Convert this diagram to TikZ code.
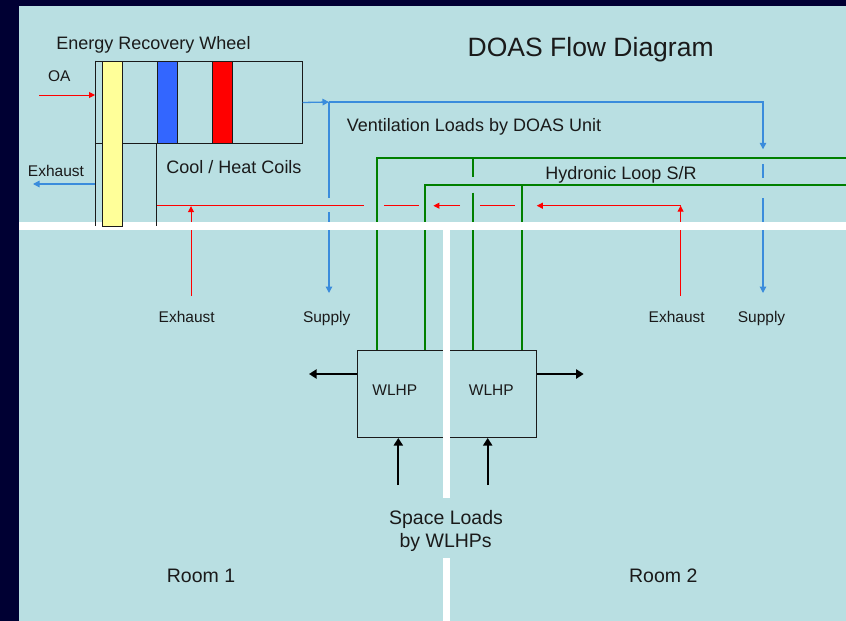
\documentclass[tikz,border=0pt]{standalone}
\usepackage{fontspec}
\setmainfont{Liberation Sans}
\usetikzlibrary{arrows.meta}
\definecolor{navy}{HTML}{000033}
\definecolor{panel}{HTML}{B9DFE2}
\definecolor{flowblue}{HTML}{3A8CDC}
\definecolor{loopgreen}{HTML}{008000}
\definecolor{coilblue}{HTML}{3366FF}
\definecolor{wheelyellow}{HTML}{FFFF99}
\definecolor{ink}{HTML}{1A1A1A}
\begin{document}
\begin{tikzpicture}[x=1pt,y=-1pt,
  titletext/.style={font=\fontsize{26.5}{30}\selectfont, anchor=base, inner sep=0, text=ink},
  lbl/.style={font=\fontsize{18}{21}\selectfont, anchor=base, inner sep=0, text=ink},
  small/.style={font=\fontsize{15.5}{18}\selectfont, anchor=base, inner sep=0, text=ink},
  big/.style={font=\fontsize{19.5}{22}\selectfont, anchor=base, inner sep=0, text=ink},
  box/.style={draw=ink, line width=1pt, inner sep=0, anchor=north west},
  blueflow/.style={draw=flowblue, line width=1.3pt},
  bluearrow/.style={blueflow, -{Triangle[length=6.5pt,width=6.5pt]}},
  redflow/.style={draw=red, line width=1pt},
  redarrow/.style={redflow, -{Triangle[length=6pt,width=6pt]}},
  loop/.style={draw=loopgreen, line width=2pt},
  heat/.style={draw=black, line width=2pt, -{Triangle[length=7.5pt,width=9pt]}},
  duct/.style={draw=ink, line width=1pt}
]
\useasboundingbox (0,0) rectangle (846,621);
\fill[navy] (0,0) rectangle (846,621);
\fill[panel] (19,6) rectangle (846,621);

% DOAS unit casing
\node[box, minimum width=206.7pt, minimum height=82.6pt] (ahu) at (95,60.7) {};

% WLHP units
\node[box, minimum width=89pt, minimum height=87pt] (wl1) at (357,350) {};
\node[box, minimum width=90pt, minimum height=87pt] (wl2) at (446,350) {};

% coordinates
\coordinate (oa) at (39,95);
\coordinate (exo) at (33,184);
\coordinate (b1) at (329,102);
\coordinate (b2) at (763,102);
\coordinate (b3) at (763,149.3);
\coordinate (b4) at (763,164);
\coordinate (b5) at (763,177.7);
\coordinate (b6) at (763,198.3);
\coordinate (b7) at (763,293);
\coordinate (b8) at (329,198.3);
\coordinate (b9) at (329,212.3);
\coordinate (b10) at (329,293);
\coordinate (r0) at (156.7,205.7);
\coordinate (r1) at (363.7,205.7);
\coordinate (r2) at (384,205.7);
\coordinate (r3) at (418.7,205.7);
\coordinate (r4) at (433.4,205.7);
\coordinate (r5) at (460,205.7);
\coordinate (r6) at (480.4,205.7);
\coordinate (r7) at (515,205.7);
\coordinate (r8) at (536.8,205.7);
\coordinate (rc) at (680.6,205.7);
\coordinate (rb) at (680.6,295.7);
\coordinate (la) at (191,295.7);
\coordinate (lt) at (191,206.2);
\coordinate (gA) at (846,157.7);
\coordinate (gAc) at (377,157.7);
\coordinate (gB) at (846,185);
\coordinate (gBc) at (425.3,185);
\coordinate (gT1) at (473.4,157.7);
\coordinate (gT1a) at (473.4,177.3);
\coordinate (gT1b) at (473.4,192.7);
\coordinate (gT2) at (521.8,185);
\coordinate (hl) at (309,374);
\coordinate (hr) at (583.7,374);
\coordinate (s1) at (398.3,485);
\coordinate (s2) at (487.7,485);

% ventilation air (blue)
\draw[bluearrow] (ahu.east) -- (b1);
\draw[bluearrow] (b1) -- (b2) -- (b3);
\draw[blueflow] (b4) -- (b5);
\draw[bluearrow] (b6) -- (b7);
\draw[blueflow] (b1) -- (b8);
\draw[bluearrow] (b9) -- (b10);
\draw[bluearrow] (ahu.west |- exo) -- (exo);

% outdoor air and exhaust (red)
\draw[redarrow] (oa) -- (ahu.west |- oa);
\draw[redflow] (r0) -- (r1);
\draw[redflow] (r2) -- (r3);
\draw[redarrow] (r5) -- (r4);
\draw[redflow] (r6) -- (r7);
\draw[redarrow] (rc) -- (r8);
\draw[redarrow] (rb) -- (rc);
\draw[redarrow] (la) -- (lt);

% hydronic loop (green)
\draw[loop] (gA) -- (gAc) -- (gAc |- wl1.north);
\draw[loop] (gB) -- (gBc) -- (gBc |- wl1.north);
\draw[loop] (gT1) -- (gT1a);
\draw[loop] (gT1b) -- (gT1b |- wl2.north);
\draw[loop] (gT2) -- (gT2 |- wl2.north);

% heat rejection and space loads (black)
\draw[heat] (wl1.west |- hl) -- (hl);
\draw[heat] (wl2.east |- hr) -- (hr);
\draw[heat] (s1) -- (s1 |- wl1.south);
\draw[heat] (s2) -- (s2 |- wl2.south);

% walls
\fill[white] (19,222) rectangle (846,230);
\fill[white] (442.5,230) rectangle (450,498);
\fill[white] (442.5,557.7) rectangle (450,621);

% unit internals
\coordinate (lw) at (95,226);
\draw[duct] (ahu.north west) -- (lw);
\node[box, fill=coilblue, minimum width=20.6pt, minimum height=82.6pt] (cb) at (156.7,60.7) {};
\node[box, fill=red, minimum width=20pt, minimum height=82.6pt] (cr) at (212.3,60.7) {};
\coordinate (mw) at (156.7,226);
\draw[duct] (cb.south west) -- (mw);
\node[box, fill=wheelyellow, minimum width=20.6pt, minimum height=165.3pt] (wheel) at (101.7,60.7) {};

% labels
\node[titletext] (ttl) at (590.7,56.7) {DOAS Flow Diagram};
\node[lbl] (erw) at (153.5,49) {Energy Recovery Wheel};
\node[small] (oal) at (59.3,81) {OA};
\node[small] (exl) at (56,176.7) {Exhaust};
\node[lbl] (chc) at (234,173.3) {Cool / Heat Coils};
\node[lbl] (vent) at (474,131) {Ventilation Loads by DOAS Unit};
\node[lbl] (hyd) at (621,179.3) {Hydronic Loop S/R};
\node[small] (wt1) at (394.8,395.3) {WLHP};
\node[small] (wt2) at (491.3,395.3) {WLHP};
\node[small] (ex1) at (186.7,322.3) {Exhaust};
\node[small] (su1) at (326.7,322.3) {Supply};
\node[small] (ex2) at (676.7,322.3) {Exhaust};
\node[small] (su2) at (761.5,322.3) {Supply};
\node[big] (sl1) at (446,524) {Space Loads};
\node[big] (sl2) at (445.7,547.3) {by WLHPs};
\node[big] (rm1) at (201,582.7) {Room 1};
\node[big] (rm2) at (663.3,582.7) {Room 2};
\end{tikzpicture}
\end{document}
